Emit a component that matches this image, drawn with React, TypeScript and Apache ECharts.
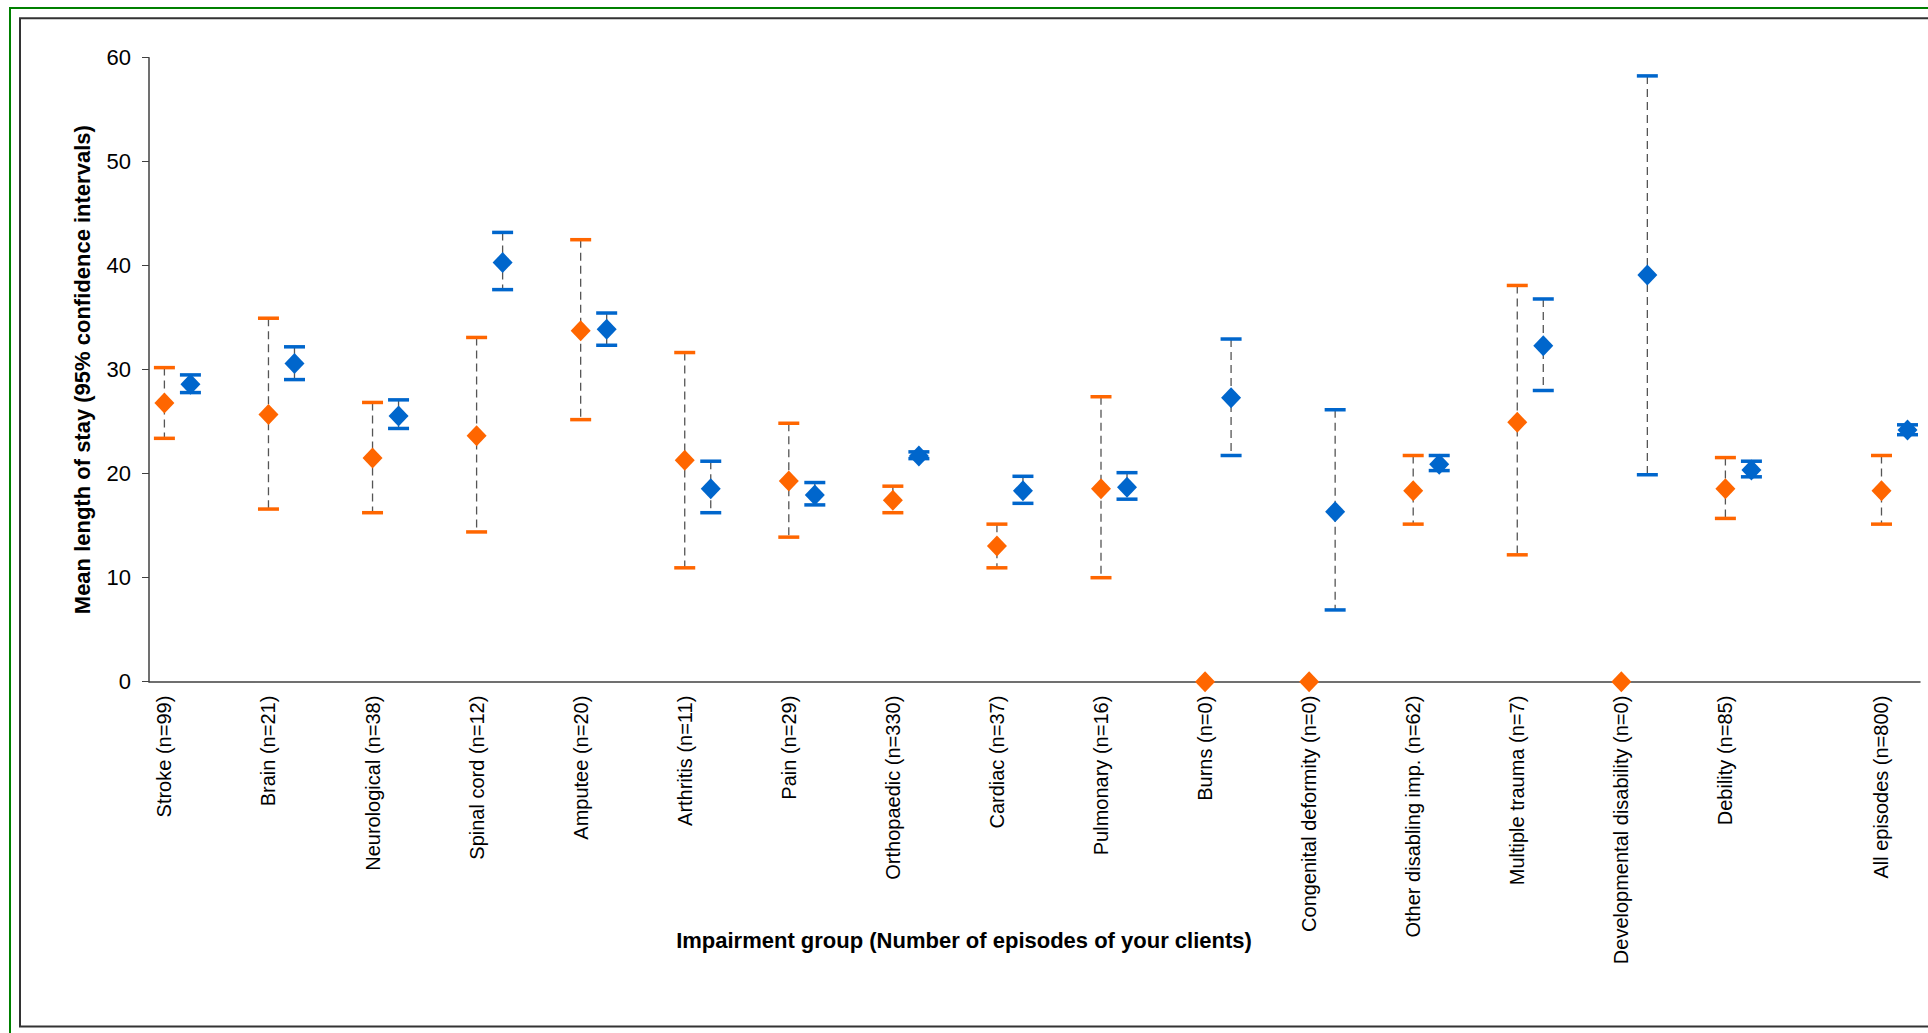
import React, { useEffect, useRef } from "react";
import * as echarts from "echarts";

const categories = [
  "Stroke (n=99)",
  "Brain (n=21)",
  "Neurological (n=38)",
  "Spinal cord (n=12)",
  "Amputee (n=20)",
  "Arthritis (n=11)",
  "Pain (n=29)",
  "Orthopaedic (n=330)",
  "Cardiac (n=37)",
  "Pulmonary (n=16)",
  "Burns (n=0)",
  "Congenital deformity (n=0)",
  "Other disabling imp. (n=62)",
  "Multiple trauma (n=7)",
  "Developmental disability (n=0)",
  "Debility (n=85)",
  "All episodes (n=800)",
];
const categoryPositions = [1, 2, 3, 4, 5, 6, 7, 8, 9, 10, 11, 12, 13, 14, 15, 16, 17.5];

// Your clients (orange)
const yourMean = [26.8, 25.7, 21.5, 23.65, 33.75, 21.3, 19.3, 17.45, 13.05, 18.55, 0, 0, 18.35, 24.95, 0, 18.55, 18.35];
const yourLower = [23.4, 16.6, 16.25, 14.4, 25.2, 10.95, 13.9, 16.25, 10.95, 10.0, null, null, 15.15, 12.2, null, 15.7, 15.15];
const yourUpper = [30.2, 34.95, 26.85, 33.1, 42.5, 31.65, 24.85, 18.8, 15.15, 27.4, null, null, 21.75, 38.1, null, 21.55, 21.75];

// All episodes benchmark (blue)
const allMean = [28.6, 30.6, 25.55, 40.3, 33.9, 18.55, 17.95, 21.7, 18.35, 18.7, 27.3, 16.35, 20.9, 32.3, 39.1, 20.35, 24.2];
const allLower = [27.8, 29.05, 24.35, 37.7, 32.35, 16.25, 17.0, 21.45, 17.15, 17.55, 21.75, 6.9, 20.3, 28.0, 19.9, 19.7, 23.75];
const allUpper = [29.5, 32.2, 27.1, 43.2, 35.45, 21.2, 19.15, 22.1, 19.75, 20.1, 32.95, 26.15, 21.75, 36.8, 58.25, 21.2, 24.7];

const seriesOffset = 0.25;

const ORANGE = "#FF6600";
const BLUE = "#0066CC";
const FONT = '"Liberation Sans", Arial, sans-serif';

function errorData(offset: number, lower: (number | null)[], upper: (number | null)[]) {
  const out: number[][] = [];
  categoryPositions.forEach((p, i) => {
    const lo = lower[i];
    const hi = upper[i];
    if (lo != null && hi != null) out.push([p + offset, lo, hi]);
  });
  return out;
}

function makeErrorRender(color: string) {
  return (params: any, api: any) => {
    const x = api.value(0);
    const lo = api.value(1);
    const hi = api.value(2);
    const a = api.coord([x, hi]);
    const b = api.coord([x, lo]);
    const capW = 21;
    const capH = 3.5;
    return {
      type: "group",
      children: [
        {
          type: "line",
          shape: { x1: a[0], y1: a[1], x2: b[0], y2: b[1] },
          style: { stroke: "#555555", lineWidth: 1.3, lineDash: [8, 5] },
        },
        {
          type: "rect",
          shape: { x: a[0] - capW / 2, y: a[1] - capH / 2, width: capW, height: capH },
          style: { fill: color },
        },
        {
          type: "rect",
          shape: { x: b[0] - capW / 2, y: b[1] - capH / 2, width: capW, height: capH },
          style: { fill: color },
        },
      ],
    };
  };
}

export default function App() {
  const ref = useRef<HTMLDivElement>(null);

  useEffect(() => {
    document.body.style.margin = "0";
    document.body.style.overflow = "hidden";
    if (!ref.current) return;
    const chart = echarts.init(ref.current, undefined, { renderer: "svg" });

    const option: any = {
      animation: false,
      backgroundColor: "#ffffff",
      grid: {
        left: 149,
        right: 8,
        top: 57.7,
        bottom: 351.3,
        containLabel: false,
        outerBoundsMode: "none",
      },
      xAxis: {
        type: "value",
        min: 0.852,
        max: 17.87,
        axisLine: { show: true, onZero: false, lineStyle: { color: "#404040", width: 1.5 } },
        axisTick: { show: false },
        splitLine: { show: false },
        axisLabel: {
          customValues: categoryPositions,
          rotate: 90,
          margin: 14,
          fontSize: 20,
          fontFamily: FONT,
          color: "#000000",
          formatter: (v: number) => {
            const i = categoryPositions.findIndex((p) => Math.abs(p - v) < 1e-6);
            return i >= 0 ? categories[i] : "";
          },
        },
      },
      yAxis: {
        type: "value",
        min: 0,
        max: 60,
        interval: 10,
        name: "Mean length of stay (95% confidence intervals)",
        nameLocation: "middle",
        nameRotate: 90,
        nameGap: 56,
        nameTextStyle: { fontSize: 22, fontWeight: "bold", fontFamily: FONT, color: "#000000" },
        axisLine: { show: true, lineStyle: { color: "#404040", width: 1.5 } },
        axisTick: { show: true, length: 7, lineStyle: { color: "#404040", width: 1 } },
        splitLine: { show: false },
        axisLabel: { margin: 18, fontSize: 22, fontFamily: FONT, color: "#000000" },
      },
      graphic: [
        {
          type: "rect",
          silent: true,
          z: -10,
          shape: { x: 10, y: 8, width: 1960, height: 1060 },
          style: { fill: "none", stroke: "#008000", lineWidth: 2 },
        },
        {
          type: "rect",
          silent: true,
          z: -10,
          shape: { x: 20, y: 18.3, width: 1960, height: 1008.2 },
          style: { fill: "none", stroke: "#333333", lineWidth: 2 },
        },
        {
          type: "text",
          silent: true,
          x: 964,
          y: 940,
          style: {
            text: "Impairment group (Number of episodes of your clients)",
            fontSize: 22,
            fontWeight: "bold",
            fontFamily: FONT,
            fill: "#000000",
            align: "center",
            verticalAlign: "middle",
            textAlign: "center",
            textVerticalAlign: "middle",
          },
        },
      ],
      series: [
        {
          name: "Your clients CI",
          type: "custom",
          renderItem: makeErrorRender(ORANGE),
          encode: { x: 0, y: [1, 2] },
          data: errorData(0, yourLower, yourUpper),
          z: 2,
          silent: true,
        },
        {
          name: "All episodes CI",
          type: "custom",
          renderItem: makeErrorRender(BLUE),
          encode: { x: 0, y: [1, 2] },
          data: errorData(seriesOffset, allLower, allUpper),
          z: 2,
          silent: true,
        },
        {
          name: "Your clients",
          type: "scatter",
          symbol: "diamond",
          symbolSize: [20, 21],
          itemStyle: { color: ORANGE, opacity: 1 },
          clip: false,
          z: 5,
          data: categoryPositions.map((p, i) => [p, yourMean[i]]),
        },
        {
          name: "All episodes",
          type: "scatter",
          symbol: "diamond",
          symbolSize: [20, 21],
          itemStyle: { color: BLUE, opacity: 1 },
          clip: false,
          z: 5,
          data: categoryPositions.map((p, i) => [p + seriesOffset, allMean[i]]),
        },
      ],
    };

    chart.setOption(option);
    return () => {
      chart.dispose();
    };
  }, []);

  return <div ref={ref} style={{ width: "1928px", height: "1033px" }} />;
}
